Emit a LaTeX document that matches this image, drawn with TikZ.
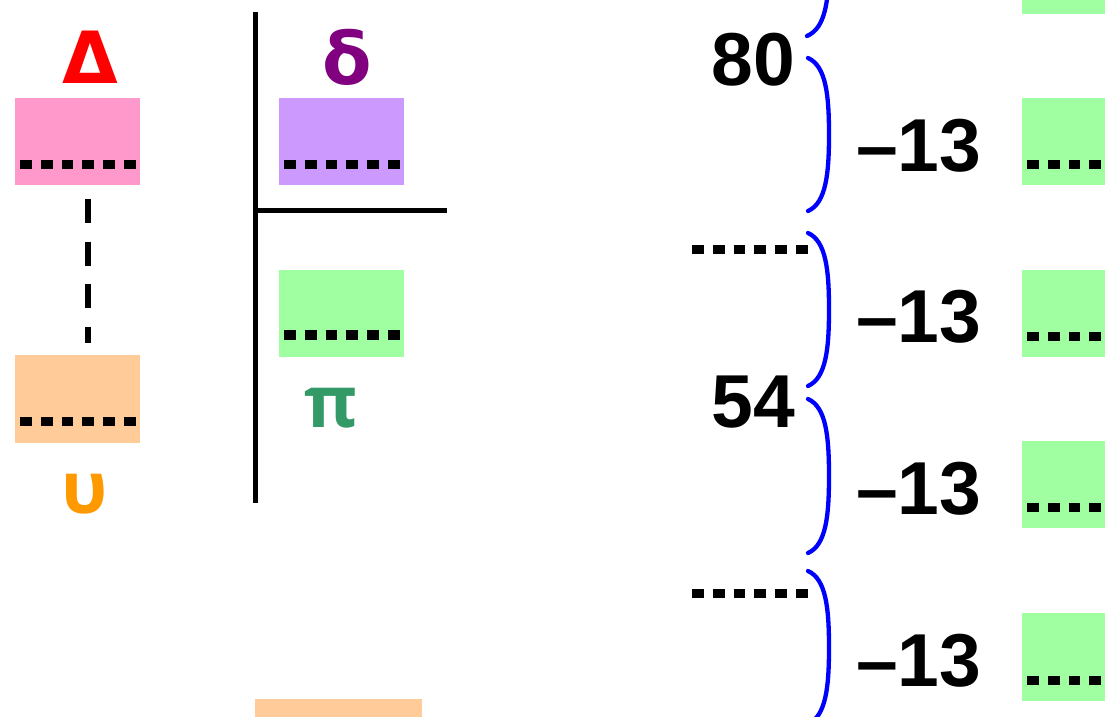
\documentclass[tikz,border=0pt]{standalone}
\usepackage{fontspec}
\setmainfont{Liberation Sans}
\newfontfamily\greekfont{DejaVu Sans}
\newfontfamily\greekfontb{Open Sans}
\usetikzlibrary{calc}
\definecolor{pinkbox}{HTML}{FF99CC}
\definecolor{purplebox}{HTML}{CC99FF}
\definecolor{greenbox}{HTML}{A0FFA0}
\definecolor{orangebox}{HTML}{FFCC99}
\definecolor{deltared}{HTML}{FF0000}
\definecolor{deltapurple}{HTML}{800080}
\definecolor{pigreen}{HTML}{339966}
\definecolor{upsorange}{HTML}{FF9900}
\definecolor{braceblue}{HTML}{0000FF}
\begin{document}
\begin{tikzpicture}[x=1pt,y=-1pt,
  box/.style={draw=none,inner sep=0pt,outer sep=0pt,minimum width=125pt,minimum height=87pt,anchor=north west},
  rbox/.style={box,fill=greenbox,minimum width=83pt},
  dots/.style={draw=black,line width=9.5pt,dash pattern=on 11.8pt off 9pt},
  lbl/.style={inner sep=0pt,anchor=base,font=\fontsize{75}{80}\selectfont\bfseries},
  glbl/.style={inner sep=0pt,anchor=base,font=\fontsize{72}{80}\selectfont\greekfont\bfseries},
  olbl/.style={inner sep=0pt,anchor=base,font=\fontsize{72}{80}\selectfont\greekfontb\bfseries},
  brace/.style={draw=braceblue,line width=4.3pt,line cap=round},
  axis/.style={draw=black,line width=5.5pt},
  dashline/.style={draw=black,line width=6pt,dash pattern=on 24pt off 18.5pt}
]
\clip (0,0) rectangle (1113,716);
\fill[white] (0,0) rectangle (1113,716);

% left column
\node[glbl,text=deltared] (Dlbl) at (90.5,83) {Δ};
\node[box,fill=pinkbox] (pink) at (15,98) {};
\draw[dots] ($(pink.south west)+(5,-20.5)$) -- ++(116,0);
\node[box,fill=orangebox,minimum height=88pt] (orng) at (15,355) {};
\draw[dots] ($(orng.south west)+(5,-21.5)$) -- ++(116,0);
\node[olbl,text=upsorange] (ulbl) at (85,513) {υ};
\draw[dashline,shorten <=14pt,shorten >=12pt] ([xshift=10pt]pink.south) -- ([xshift=10pt]orng.north);

% axis lines
\coordinate (vtop) at (255.5,12);
\coordinate (vbot) at (255.5,503);
\coordinate (hleft) at (255.5,210.5);
\coordinate (hright) at (447,210.5);
\draw[axis] (vtop) -- (vbot);
\draw[axis] (hleft) -- (hright);

% middle column
\node[glbl,text=deltapurple] (dlbl) at (347.5,84) {δ};
\node[box,fill=purplebox] (purp) at (279,98) {};
\draw[dots] ($(purp.south west)+(5,-20.5)$) -- ++(116,0);
\node[box,fill=greenbox] (grn) at (279,270) {};
\draw[dots] ($(grn.south west)+(5,-22)$) -- ++(116,0);
\node[olbl,text=pigreen] (pilbl) at (331.5,427) {π};
\node[box,fill=orangebox,minimum width=167pt,minimum height=40pt] (obar) at (255,699) {};

% right column: numbers
\node[lbl,anchor=base east] (n80) at (795,85) {80};
\node[lbl,anchor=base east] (n54) at (795,427) {54};
\coordinate (dl1) at (692,249.5);
\coordinate (dl2) at (692,593.5);
\draw[dots] (dl1) -- ++(116,0);
\draw[dots] (dl2) -- ++(116,0);

% braces
\draw[brace] (808,-117) .. controls (826,-109) and (829,-80) .. (829,-40.5) .. controls (829,-1) and (826,28) .. (807,36);
\draw[brace] (808,58) .. controls (826,66) and (829,95) .. (829,134.5) .. controls (829,174) and (826,203) .. (808,211);
\draw[brace] (808,233) .. controls (826,241) and (829,270) .. (829,309.5) .. controls (829,349) and (826,378) .. (808,386);
\draw[brace] (808,399) .. controls (826,407) and (829,436) .. (829,476) .. controls (829,516) and (826,545) .. (808,553);
\draw[brace] (808,571) .. controls (826,579) and (829,608) .. (829,647.5) .. controls (829,687) and (826,716) .. (808,724);

% -13 labels
\node[lbl,anchor=base west] (m1) at (856,171) {–13};
\node[lbl,anchor=base west] (m2) at (856,342) {–13};
\node[lbl,anchor=base west] (m3) at (856,514) {–13};
\node[lbl,anchor=base west] (m4) at (856,686) {–13};

% right green boxes
\node[rbox] (r0) at (1022,-73) {};
\node[rbox] (r1) at (1022,98) {};
\node[rbox] (r2) at (1022,270) {};
\node[rbox] (r3) at (1022,441) {};
\node[rbox,minimum height=88pt] (r4) at (1022,613) {};
\foreach \r in {r1,r2,r3,r4}{
  \draw[dots] ($(\r.south west)+(5,-20.5)$) -- ++(74.2,0);
}
\end{tikzpicture}
\end{document}
